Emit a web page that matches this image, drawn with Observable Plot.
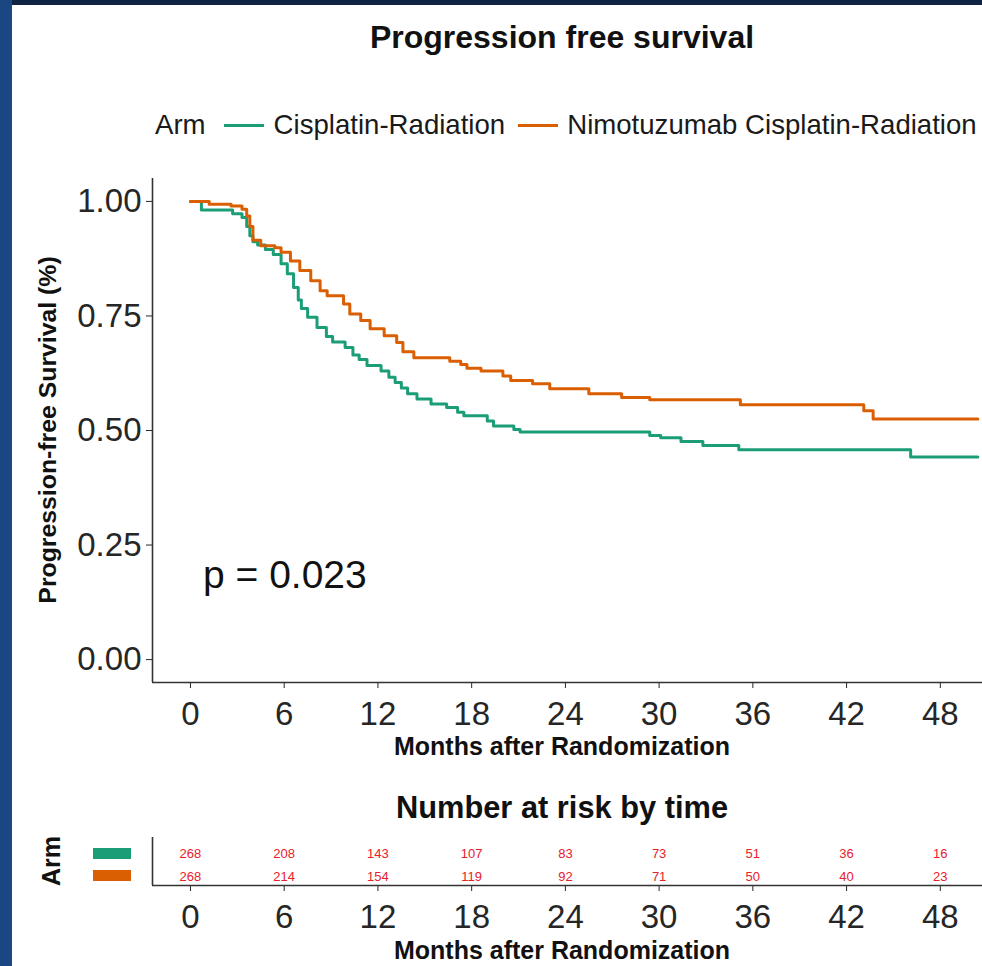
<!DOCTYPE html>
<html>
<head>
<meta charset="utf-8">
<script src="https://cdn.jsdelivr.net/npm/d3@7"></script>
<script src="https://cdn.jsdelivr.net/npm/@observablehq/plot@0.6"></script>
<style>
  html, body { margin: 0; padding: 0; background: #fff; overflow: hidden; }
  #page { position: relative; width: 982px; height: 966px; background: #fff; overflow: hidden;
          font-family: "Liberation Sans", Arial, Helvetica, sans-serif; color: #111; }
  .bar-top { position: absolute; left: 0; top: 0; width: 982px; height: 5px; background: #0f2343; }
  .bar-left { position: absolute; left: 0; top: 0; width: 12px; height: 966px; background: #1a4782; }
  .center { position: absolute; transform: translate(-50%, -50%); white-space: nowrap; }
  .rot { position: absolute; transform: translate(-50%, -50%) rotate(-90deg); white-space: nowrap; font-weight: bold; }
  .bold { font-weight: bold; }
  #legend { position: absolute; left: 155px; top: 125px; transform: translateY(-50%); display: flex; align-items: center;
            font-size: 27.6px; white-space: nowrap; color: #1a1a1a; }
  #legend .key { display: inline-block; width: 40px; height: 3px; }
  .swatch { position: absolute; width: 38px; height: 11px; }
  .plot { position: absolute; left: 0; }
</style>
</head>
<body>
<div id="page">
  <div class="bar-top"></div>
  <div class="bar-left"></div>

  <div class="center bold" style="left:562px; top:37px; font-size:32px;">Progression free survival</div>

  <div id="legend">
    <span style="margin-right:18px;">Arm</span>
    <span class="key" id="key0" style="margin-right:10px;"></span>
    <span style="margin-right:13px;" id="lab0"></span>
    <span class="key" id="key1" style="margin-right:9px;"></span>
    <span id="lab1"></span>
  </div>

  <div class="rot" style="left:48px; top:430px; font-size:24.8px;">Progression-free Survival (%)</div>
  <div id="km" class="plot" style="top:170px;"></div>
  <div style="position:absolute; left:203px; top:575px; transform:translateY(-50%); font-size:39px; white-space:nowrap; color:#111;">p = 0.023</div>
  <div class="center bold" style="left:562px; top:746px; font-size:25px;">Months after Randomization</div>

  <div class="center bold" style="left:562px; top:808px; font-size:30.8px;">Number at risk by time</div>
  <div class="rot" style="left:51px; top:861px; font-size:25px;">Arm</div>
  <div class="swatch" id="sw0" style="left:93px; top:848px;"></div>
  <div class="swatch" id="sw1" style="left:93px; top:870px;"></div>
  <div id="risk" class="plot" style="top:820px;"></div>
  <div class="center bold" style="left:562px; top:950px; font-size:25px;">Months after Randomization</div>
</div>

<script>
// Treatment arms and their colours (Dark2)
const arms = ["Cisplatin-Radiation", "Nimotuzumab Cisplatin-Radiation"];
const armColors = ["#1b9e77", "#d95f02"];

// Time axis ticks (months) and survival ticks
const months = [0, 6, 12, 18, 24, 30, 36, 42, 48];
const survTicks = [0, 0.25, 0.5, 0.75, 1];

// Kaplan–Meier steps: Cisplatin-Radiation
const cisTime = [0, 0.7, 2.7, 3.3, 3.6, 3.8, 4.0, 4.3, 4.8, 5.3,
                 5.8, 6.2, 6.6, 6.9, 7.1, 7.5, 8.1, 8.7, 9.1, 9.9,
                 10.4, 10.8, 11.3, 12.2, 12.7, 13.1, 13.5, 13.9, 14.5, 15.4,
                 16.4, 17.1, 17.5, 19.0, 19.4, 20.7, 21.1, 29.4, 30.1, 31.4,
                 32.8, 35.1, 46.1, 50.4];
const cisSurv = [1.0, 0.981, 0.973, 0.965, 0.945, 0.925, 0.912, 0.905, 0.895, 0.884,
                 0.864, 0.842, 0.812, 0.785, 0.766, 0.747, 0.725, 0.705, 0.693, 0.681,
                 0.665, 0.655, 0.642, 0.630, 0.616, 0.605, 0.593, 0.580, 0.569, 0.558,
                 0.550, 0.540, 0.532, 0.521, 0.510, 0.502, 0.497, 0.489, 0.484, 0.476,
                 0.467, 0.458, 0.442, 0.442];

// Kaplan–Meier steps: Nimotuzumab Cisplatin-Radiation
const nimoTime = [0, 1.2, 2.6, 3.3, 3.6, 3.8, 4.0, 4.5, 5.4, 5.8,
                  6.4, 7.0, 7.7, 8.3, 8.75, 9.8, 10.2, 10.9, 11.5, 12.4,
                  13.2, 13.6, 14.3, 16.6, 17.3, 17.7, 18.6, 20.0, 20.5, 21.9,
                  23.0, 25.5, 27.6, 29.4, 35.2, 43.1, 43.7, 50.4];
const nimoSurv = [1.0, 0.994, 0.990, 0.983, 0.968, 0.945, 0.915, 0.903, 0.899, 0.889,
                  0.870, 0.849, 0.827, 0.805, 0.794, 0.776, 0.754, 0.740, 0.722, 0.707,
                  0.692, 0.672, 0.659, 0.651, 0.644, 0.636, 0.630, 0.619, 0.609, 0.602,
                  0.591, 0.580, 0.572, 0.567, 0.556, 0.543, 0.525, 0.525];

// Number at risk at each tick
const riskCis = [268, 208, 143, 107, 83, 73, 51, 36, 16];
const riskNimo = [268, 214, 154, 119, 92, 71, 50, 40, 23];

// Scale domains (ggplot-style expansion around the data)
const xDomain = [-2.43, 50.7];
const yDomain = [-0.05, 1.05];
const riskYDomain = [1.39, -0.7];

// Legend and swatches
arms.forEach((a, i) => {
  document.getElementById("lab" + i).textContent = a;
  document.getElementById("key" + i).style.background = armColors[i];
  document.getElementById("sw" + i).style.background = armColors[i];
});

const curves = [
  ...cisTime.map((t, i) => ({arm: arms[0], time: t, surv: cisSurv[i]})),
  ...nimoTime.map((t, i) => ({arm: arms[1], time: t, surv: nimoSurv[i]}))
];

const axisStyle = {
  fontFamily: '"Liberation Sans", Arial, Helvetica, sans-serif',
  fontSize: "33px",
  color: "#262626",
  background: "transparent",
  overflow: "visible"
};

const km = Plot.plot({
  width: 982,
  height: 610,
  marginTop: 8,
  marginBottom: 98,
  marginLeft: 152,
  marginRight: 0,
  style: axisStyle,
  x: {domain: xDomain, ticks: months, tickSize: 6, tickPadding: 13, label: null},
  y: {domain: yDomain, ticks: survTicks, tickFormat: d3.format(".2f"), tickSize: 6, tickPadding: 5, label: null},
  color: {domain: arms, range: armColors},
  marks: [
    Plot.ruleX([xDomain[0]], {stroke: "#333", strokeWidth: 1.6}),
    Plot.ruleY([yDomain[0]], {stroke: "#333", strokeWidth: 1.6}),
    Plot.line(curves, {x: "time", y: "surv", z: "arm", stroke: "arm", curve: "step-after", strokeWidth: 3})
  ]
});
document.getElementById("km").appendChild(km);

const riskRows = arms.flatMap((arm, r) =>
  months.map((m, i) => ({arm, row: r, month: m, n: (r === 0 ? riskCis : riskNimo)[i]}))
);

const risk = Plot.plot({
  width: 982,
  height: 146,
  marginTop: 17,
  marginBottom: 81,
  marginLeft: 152,
  marginRight: 0,
  style: axisStyle,
  x: {domain: xDomain, ticks: months, tickSize: 6, tickPadding: 13, label: null},
  y: {domain: riskYDomain, axis: null},
  marks: [
    Plot.ruleX([xDomain[0]], {stroke: "#333", strokeWidth: 1.6}),
    Plot.ruleY([riskYDomain[0]], {stroke: "#333", strokeWidth: 1.6}),
    Plot.text(riskRows, {x: "month", y: "row", text: "n", fill: "#e8202a", fontSize: 13})
  ]
});
document.getElementById("risk").appendChild(risk);
</script>
</body>
</html>
